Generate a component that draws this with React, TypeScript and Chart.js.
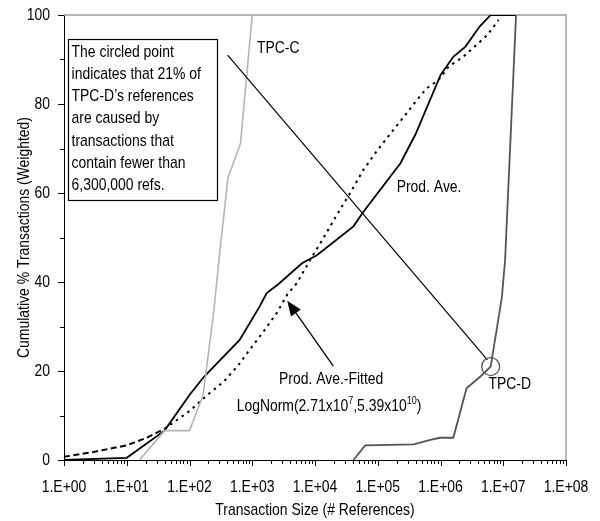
import React, { useEffect, useRef } from 'react';
import { Chart, registerables } from 'chart.js';

Chart.register(...registerables);

const FONT = '"Liberation Sans", Arial, sans-serif';
const NARROW = 0.82; // horizontal squeeze to imitate a narrow face

// Axis ticks
const X_TICKS = [1, 10, 100, 1e3, 1e4, 1e5, 1e6, 1e7, 1e8];
const X_TICK_LABELS = ['1.E+00', '1.E+01', '1.E+02', '1.E+03', '1.E+04', '1.E+05', '1.E+06', '1.E+07', '1.E+08'];
const Y_TICKS = [0, 20, 40, 60, 80, 100];
const Y_MINOR = [10, 30, 50, 70, 90];

// Series: TPC-C
const tpccX = [16, 40, 100, 165, 245, 300, 410, 650, 1000];
const tpccY = [0, 6.6, 6.6, 14.6, 33.7, 46, 63.4, 71.2, 100];

// Series: TPC-D
const tpcdX = [41000, 63000, 370000, 690000, 980000, 1600000, 2600000, 4600000, 6300000, 9500000, 10700000, 16000000];
const tpcdY = [0, 3.3, 3.5, 4.5, 5.0, 5.0, 16.1, 19.1, 21, 36.5, 45, 100];

// Series: Prod. Ave.
const prodX = [1, 10, 40, 100, 170, 630, 1300, 1700, 2600, 6200, 10700, 41000, 58000, 230000, 400000, 1000000, 1600000, 2500000, 4200000, 6300000, 16000000];
const prodY = [0, 0.5, 6.6, 14.6, 18.7, 27, 34.4, 37.5, 39.5, 44.2, 46, 52.5, 55.6, 66.7, 73.2, 86.5, 90.6, 92.9, 97.4, 100, 100];

// Series: Prod. Ave.-Fitted (LogNorm)
const fitX = [1, 3.2, 10, 20, 40, 100, 200, 350, 600, 900, 1500, 2450, 3650, 5100, 9000, 13000, 23000, 36000, 59000, 95000, 160000, 260000, 420000, 600000, 930000, 1350000, 2300000, 3500000, 5100000, 6600000, 8400000];
const fitY = [0.7, 1.9, 3.3, 4.9, 7.0, 11.0, 14.8, 17.6, 21.3, 24.7, 28.8, 33, 37.3, 39.7, 45.7, 49.4, 55.4, 59.9, 65.2, 69.3, 73.4, 77.1, 80.9, 83.5, 85.4, 88.4, 90.6, 92.9, 95, 96.8, 98.9];

// Annotation text
const NOTE_LINES = [
  'The circled point',
  'indicates that 21% of',
  'TPC-D\u2019s references',
  'are caused by',
  'transactions that',
  'contain fewer than',
  '6,300,000 refs.',
];
const CIRCLED = { x: 6300000, y: 21 };

const toPts = (xs: number[], ys: number[]) => xs.map((v, i) => ({ x: v, y: ys[i] }));

function narrowText(ctx: any) {
  if (ctx.__narrowed) return;
  ctx.__narrowed = true;
  const orig = ctx.fillText;
  ctx.fillText = function (text: string, x: number, y: number) {
    this.save();
    this.translate(x, y);
    this.scale(NARROW, 1);
    orig.call(this, text, 0, 0);
    this.restore();
  };
}

const frameAndTicks = {
  id: 'frameAndTicks',
  beforeDatasetsDraw(chart: any) {
    const { ctx, chartArea: ca } = chart;
    ctx.save();
    ctx.strokeStyle = '#a0a0a0';
    ctx.lineWidth = 1.5;
    ctx.beginPath();
    ctx.moveTo(ca.left, ca.top);
    ctx.lineTo(ca.right, ca.top);
    ctx.lineTo(ca.right, ca.bottom);
    ctx.stroke();
    ctx.restore();
  },
  afterDraw(chart: any) {
    const { ctx, chartArea: ca, scales } = chart;
    const x = scales.x;
    const y = scales.y;
    ctx.save();
    ctx.strokeStyle = '#000';
    ctx.lineWidth = 1;
    ctx.beginPath();
    for (let e = 0; e <= 8; e++) {
      const base = Math.pow(10, e);
      const p = Math.round(x.getPixelForValue(base)) + 0.5;
      ctx.moveTo(p, ca.bottom);
      ctx.lineTo(p, ca.bottom + 6);
      if (e < 8) {
        for (let k = 2; k <= 9; k++) {
          const q = Math.round(x.getPixelForValue(base * k)) + 0.5;
          ctx.moveTo(q, ca.bottom);
          ctx.lineTo(q, ca.bottom + 4);
        }
      }
    }
    Y_TICKS.forEach((v) => {
      const p = Math.round(y.getPixelForValue(v)) + 0.5;
      ctx.moveTo(ca.left - 6, p);
      ctx.lineTo(ca.left, p);
    });
    Y_MINOR.forEach((v) => {
      const p = Math.round(y.getPixelForValue(v)) + 0.5;
      ctx.moveTo(ca.left - 4, p);
      ctx.lineTo(ca.left, p);
    });
    ctx.stroke();
    ctx.restore();
  },
};

const annotations = {
  id: 'annotations',
  afterDatasetsDraw(chart: any) {
    const { ctx, scales } = chart;
    const X = (v: number) => scales.x.getPixelForValue(v);
    const Y = (v: number) => scales.y.getPixelForValue(v);
    ctx.save();
    ctx.font = `17px ${FONT}`;
    ctx.fillStyle = '#000';
    ctx.strokeStyle = '#000';
    ctx.textBaseline = 'middle';
    ctx.textAlign = 'left';

    // pointer line from box to circled point
    ctx.lineWidth = 1.2;
    ctx.beginPath();
    ctx.moveTo(X(405), Y(91));
    ctx.lineTo(X(5600000), Y(22.5));
    ctx.stroke();

    // circle
    ctx.strokeStyle = '#555';
    ctx.lineWidth = 1.3;
    ctx.beginPath();
    ctx.arc(X(CIRCLED.x), Y(CIRCLED.y), 9, 0, Math.PI * 2);
    ctx.stroke();

    // text box
    const bx0 = X(1.16), bx1 = X(276), by0 = Y(94.5), by1 = Y(58.4);
    ctx.fillStyle = '#fff';
    ctx.fillRect(bx0, by0, bx1 - bx0, by1 - by0);
    ctx.strokeStyle = '#000';
    ctx.lineWidth = 1.2;
    ctx.strokeRect(Math.round(bx0) + 0.5, Math.round(by0) + 0.5, Math.round(bx1 - bx0), Math.round(by1 - by0));
    ctx.fillStyle = '#000';
    NOTE_LINES.forEach((t, i) => {
      ctx.fillText(t, bx0 + 3.5, by0 + 12.6 + i * 22.2);
    });

    // arrow
    const tx = X(19600), ty = Y(21.1), hx = X(3610), hy = Y(35.8);
    const ang = Math.atan2(hy - ty, hx - tx);
    const hl = 15, hw = 6;
    ctx.lineWidth = 1.3;
    ctx.beginPath();
    ctx.moveTo(tx, ty);
    ctx.lineTo(hx - Math.cos(ang) * hl * 0.8, hy - Math.sin(ang) * hl * 0.8);
    ctx.stroke();
    ctx.beginPath();
    ctx.moveTo(hx, hy);
    ctx.lineTo(hx - Math.cos(ang) * hl - Math.sin(ang) * hw, hy - Math.sin(ang) * hl + Math.cos(ang) * hw);
    ctx.lineTo(hx - Math.cos(ang) * hl + Math.sin(ang) * hw, hy - Math.sin(ang) * hl - Math.cos(ang) * hw);
    ctx.closePath();
    ctx.fill();

    // labels
    ctx.fillText('TPC-C', X(1190), Y(92.6));
    ctx.fillText('Prod. Ave.', X(200000), Y(61.2));
    ctx.fillText('TPC-D', X(5800000), Y(16.9));
    ctx.fillText('Prod. Ave.-Fitted', X(2670), Y(18.1));

    // LogNorm with superscripts
    let cx = X(564);
    const cy = Y(12.0);
    const parts: [string, boolean][] = [
      ['LogNorm(2.71x10', false],
      ['7', true],
      [',5.39x10', false],
      ['10', true],
      [')', false],
    ];
    parts.forEach(([t, sup]) => {
      ctx.font = sup ? `11px ${FONT}` : `17px ${FONT}`;
      ctx.fillText(t, cx, sup ? cy - 6 : cy);
      cx += ctx.measureText(t).width * NARROW;
    });
    ctx.restore();
  },
};

export default function App() {
  const ref = useRef<HTMLCanvasElement | null>(null);

  useEffect(() => {
    document.body.style.margin = '0';
    const canvas = ref.current;
    if (!canvas) return;
    narrowText(canvas.getContext('2d'));
    const chart = new Chart(canvas, {
      type: 'line',
      data: {
        datasets: [
          {
            label: 'TPC-C',
            data: toPts(tpccX, tpccY),
            borderColor: '#b4b4b4',
            borderWidth: 1.6,
            pointRadius: 0,
            tension: 0,
          },
          {
            label: 'TPC-D',
            data: toPts(tpcdX, tpcdY),
            borderColor: '#555555',
            borderWidth: 1.8,
            pointRadius: 0,
            tension: 0,
          },
          {
            label: 'Prod. Ave.-Fitted',
            data: toPts(fitX, fitY),
            borderColor: '#000',
            borderWidth: 2,
            borderDash: [3, 4],
            segment: {
              borderDash: (c: any) => (c.p0.parsed.x < 40 ? [6, 3.5] : [2.5, 4.5]),
            },
            pointRadius: 0,
            tension: 0,
          },
          {
            label: 'Prod. Ave.',
            data: toPts(prodX, prodY),
            borderColor: '#000',
            borderWidth: 1.8,
            pointRadius: 0,
            tension: 0,
          },
        ],
      } as any,
      options: {
        animation: false,
        responsive: true,
        maintainAspectRatio: false,
        layout: { padding: { top: 15, right: 34, left: 0, bottom: 0 } },
        plugins: {
          legend: { display: false },
          tooltip: { enabled: false },
        },
        scales: {
          x: {
            type: 'logarithmic',
            min: 1,
            max: 1e8,
            afterBuildTicks: (axis: any) => {
              axis.ticks = X_TICKS.map((v) => ({ value: v }));
            },
            afterFit: (axis: any) => {
              axis.height = 61;
              axis.paddingLeft = 0;
              axis.paddingRight = 0;
              axis.paddingTop = 0;
              axis.paddingBottom = 0;
            },
            grid: { display: false, drawTicks: false },
            border: { display: true, color: '#000', width: 1 },
            ticks: {
              autoSkip: false,
              maxRotation: 0,
              padding: 17,
              color: '#000',
              font: { family: FONT, size: 17 },
              callback: (_v: any, i: number) => X_TICK_LABELS[i],
            },
            title: {
              display: true,
              text: 'Transaction Size (# References)',
              color: '#000',
              font: { family: FONT, size: 17 },
              padding: { top: 0, bottom: 0 },
            },
          },
          y: {
            type: 'linear',
            min: 0,
            max: 100,
            afterBuildTicks: (axis: any) => {
              axis.ticks = Y_TICKS.map((v) => ({ value: v }));
            },
            afterFit: (axis: any) => {
              axis.width = 64;
              axis.paddingLeft = 0;
              axis.paddingRight = 0;
              axis.paddingTop = 0;
              axis.paddingBottom = 0;
            },
            grid: { display: false, drawTicks: false },
            border: { display: true, color: '#000', width: 1 },
            ticks: {
              padding: 14,
              color: '#000',
              font: { family: FONT, size: 17 },
            },
            title: {
              display: true,
              text: 'Cumulative % Transactions (Weighted)',
              color: '#000',
              font: { family: FONT, size: 17 },
              padding: { top: 14, bottom: 0 },
            },
          },
        },
      } as any,
      plugins: [frameAndTicks, annotations],
    });
    return () => chart.destroy();
  }, []);

  return (
    <div style={{ width: 600, height: 521, position: 'relative' }}>
      <canvas ref={ref} />
    </div>
  );
}
